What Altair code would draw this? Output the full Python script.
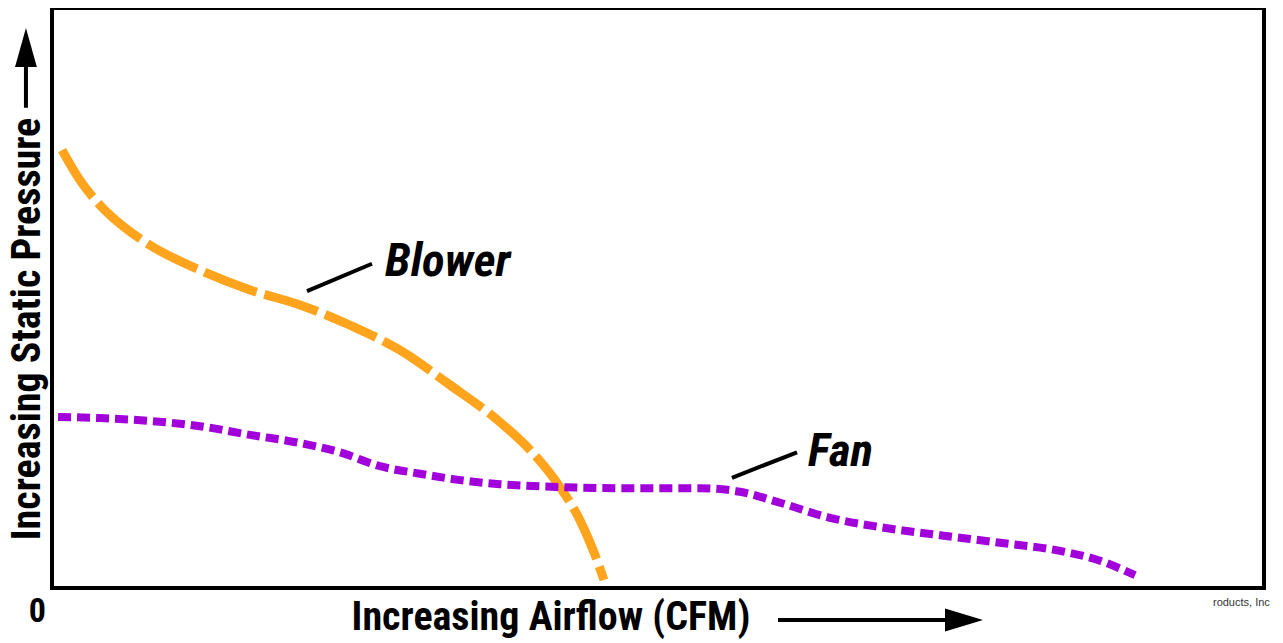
import altair as alt
import pandas as pd

# Blower curve (x: airflow 0-100, y: static pressure 0-100)
blower_x = [0.83, 2.31, 3.96, 6.02, 8.09, 12.21, 16.34, 20.46, 24.59, 28.71, 32.84, 36.96, 39.44, 41.91, 43.56, 44.80, 45.54]
blower_y = [75.5, 70.3, 66.0, 62.1, 59.1, 54.8, 51.4, 48.8, 45.3, 41.0, 35.0, 28.6, 23.8, 17.4, 11.7, 5.7, 1.4]

# Fan curve
fan_x = [0.50, 3.96, 8.09, 12.21, 16.34, 20.46, 23.76, 27.06, 30.36, 33.66, 36.96, 41.91, 46.86, 53.47, 56.77, 60.07, 64.19, 68.32, 73.27, 78.22, 83.17, 86.47, 89.36]
fan_y = [29.5, 29.3, 28.8, 27.9, 26.4, 25.0, 23.4, 21.0, 19.7, 18.6, 17.9, 17.4, 17.2, 17.2, 16.6, 14.7, 12.1, 10.5, 9.1, 7.8, 6.4, 4.7, 2.2]

ORANGE = "#FFA41C"
PURPLE = "#A100DB"
NARROW = "Roboto Condensed, DejaVu Sans Condensed, sans-serif"

blower = pd.DataFrame({"x": blower_x, "y": blower_y})
fan = pd.DataFrame({"x": fan_x, "y": fan_y})
one = pd.DataFrame({"a": [0]})

xs = alt.Scale(domain=[0, 100], nice=False, zero=False)
ys = alt.Scale(domain=[0, 100], nice=False, zero=False)
X = lambda f: alt.X(f, type="quantitative", scale=xs, axis=None)
Y = lambda f: alt.Y(f, type="quantitative", scale=ys, axis=None)

blower_line = alt.Chart(blower).mark_line(
    color=ORANGE, strokeWidth=9, strokeDash=[56, 8], interpolate="monotone", strokeCap="butt"
).encode(x=X("x"), y=Y("y"), order="x:Q")

fan_line = alt.Chart(fan).mark_line(
    color=PURPLE, strokeWidth=8, strokeDash=[13, 6], interpolate="monotone", strokeCap="butt"
).encode(x=X("x"), y=Y("y"), order="x:Q")

def seg(x1, y1, x2, y2, w=4):
    return alt.Chart(one).mark_rule(color="black", strokeWidth=w, strokeCap="butt").encode(
        x=alt.datum(x1), y=alt.datum(y1), x2=alt.datum(x2), y2=alt.datum(y2))

def label(txt, x, y, size, italic=False, bold=True, angle=0, align="left", color="black", font=NARROW):
    kw = dict(text=txt, fontSize=size, font=font, color=color, align=align, baseline="alphabetic", angle=angle)
    if italic:
        kw["fontStyle"] = "italic"
    kw["fontWeight"] = "bold" if bold else "normal"
    return alt.Chart(one).mark_text(**kw).encode(x=alt.datum(x), y=alt.datum(y))

def arrowhead(x, y, path, size):
    return alt.Chart(one).mark_point(shape=path, size=size, filled=True, color="black", opacity=1, strokeWidth=0).encode(
        x=alt.datum(x), y=alt.datum(y))

layers = [
    blower_line,
    fan_line,
    seg(21.04, 51.2, 26.40, 55.9),
    label("Blower", 27.48, 53.8, 47, italic=True),
    seg(56.1, 19.0, 61.47, 23.4),
    label("Fan", 62.38, 21.0, 47, italic=True),
    label("Increasing Airflow (CFM)", 41.17, -7.24, 40, align="center"),
    seg(59.9, -5.52, 74.5, -5.52),
    arrowhead(75.25, -5.52, "M-1,-0.6L1,0L-1,0.6Z", 1444),
    label("Increasing Static Pressure", -0.95, 44.66, 40, angle=270, align="center"),
    seg(-2.15, 82.8, -2.15, 91.0),
    arrowhead(-2.15, 93.2, "M-0.56,1L0,-1L0.56,1Z", 1521),
    label("0", -1.2, -5.86, 34, align="center"),
    label("roducts, Inc", 95.79, -3.1, 11, bold=False, color="#333333", font="Liberation Sans, Arial, sans-serif"),
]

chart = alt.layer(*layers).properties(
    width=1212, height=580,
    autosize=alt.AutoSizeParams(type="none"),
    padding={"left": 44, "top": 0, "right": 11, "bottom": 55},
).configure_view(stroke="black", strokeWidth=4)

chart.save("out.html", embed_options={"renderer": "svg", "actions": False})
